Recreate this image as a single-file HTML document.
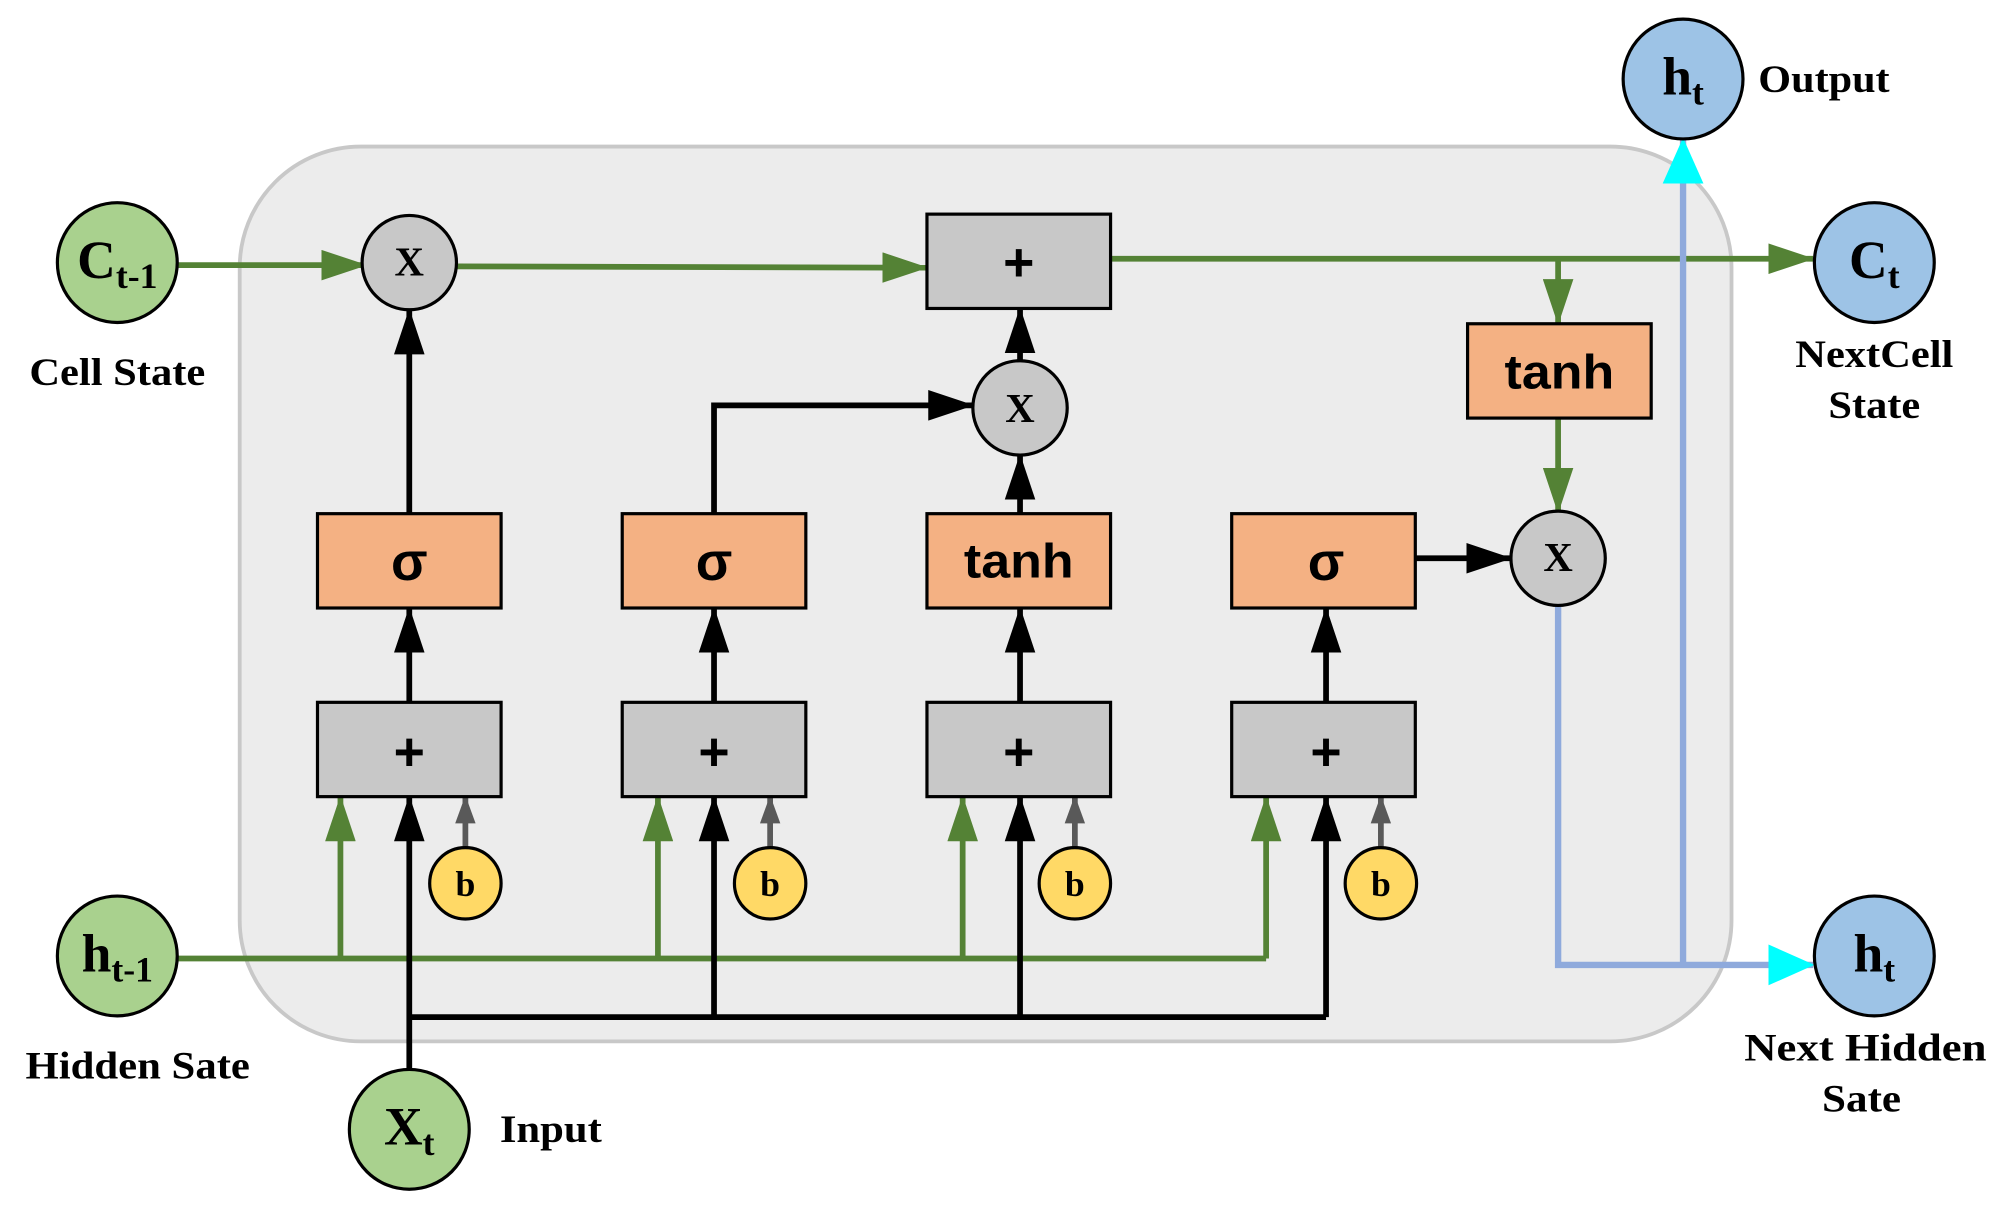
<!DOCTYPE html>
<html><head><meta charset="utf-8"><style>
html,body{margin:0;padding:0;background:#fff}
svg{display:block}
.lbl{font-family:"Liberation Serif",serif;font-weight:bold;fill:#000}
.box{font-family:"Liberation Sans",sans-serif;font-weight:bold;fill:#000}
</style></head><body>
<svg width="1998" height="1216" viewBox="0 0 1567 954" preserveAspectRatio="none" xmlns="http://www.w3.org/2000/svg">
<defs>
<marker id="ag" markerWidth="36" markerHeight="24" refX="35" refY="12" orient="auto" markerUnits="userSpaceOnUse" viewBox="0 0 36 24"><path d="M0,0L36,12L0,24z" fill="#548235"/></marker>
<marker id="ak" markerWidth="36" markerHeight="24" refX="35" refY="12" orient="auto" markerUnits="userSpaceOnUse" viewBox="0 0 36 24"><path d="M0,0L36,12L0,24z" fill="#000"/></marker>
<marker id="ay" markerWidth="22" markerHeight="16" refX="21" refY="8" orient="auto" markerUnits="userSpaceOnUse" viewBox="0 0 22 16"><path d="M0,0L22,8L0,16z" fill="#595959"/></marker>
<marker id="ac" markerWidth="36" markerHeight="32" refX="35" refY="16" orient="auto" markerUnits="userSpaceOnUse" viewBox="0 0 36 32"><path d="M0,0L36,16L0,32z" fill="#00ffff"/></marker>
</defs>
<style>
.g{stroke:#548235;stroke-width:4.5;fill:none}
.k{stroke:#000;stroke-width:4.5;fill:none}
.y{stroke:#595959;stroke-width:4.5;fill:none}
.b{stroke:#8faadc;stroke-width:5;fill:none}
</style>
<rect x="188" y="115" width="1170" height="702" rx="95" fill="#ececec" stroke="#c8c8c8" stroke-width="3"/>
<path class="g" d="M139,208H287" marker-end="url(#ag)"/>
<path class="g" d="M358,209L727,210" marker-end="url(#ag)"/>
<path class="g" d="M871,203H1422" marker-end="url(#ag)"/>
<path class="g" d="M1222,203V254" marker-end="url(#ag)"/>
<path class="g" d="M1222,328V402" marker-end="url(#ag)"/>
<path class="k" d="M321,403V243" marker-end="url(#ak)"/>
<path class="k" d="M560,403V318H763" marker-end="url(#ak)"/>
<path class="k" d="M800,403V357" marker-end="url(#ak)"/>
<path class="k" d="M800,283V242" marker-end="url(#ak)"/>
<path class="k" d="M1110,438H1185" marker-end="url(#ak)"/>
<path class="k" d="M321,551V477" marker-end="url(#ak)"/>
<path class="k" d="M560,551V477" marker-end="url(#ak)"/>
<path class="k" d="M800,551V477" marker-end="url(#ak)"/>
<path class="k" d="M1040,551V477" marker-end="url(#ak)"/>
<path class="g" d="M139,752H993"/>
<path class="g" d="M267,752V625" marker-end="url(#ag)"/>
<path class="g" d="M516,752V625" marker-end="url(#ag)"/>
<path class="g" d="M755,752V625" marker-end="url(#ag)"/>
<path class="g" d="M993,752V625" marker-end="url(#ag)"/>
<path class="k" d="M321,839V625" marker-end="url(#ak)"/>
<path class="k" d="M321,798H1040"/>
<path class="k" d="M560,798V625" marker-end="url(#ak)"/>
<path class="k" d="M800,798V625" marker-end="url(#ak)"/>
<path class="k" d="M1040,798V625" marker-end="url(#ak)"/>
<path class="y" d="M365,665V625" marker-end="url(#ay)"/>
<path class="y" d="M604,665V625" marker-end="url(#ay)"/>
<path class="y" d="M843,665V625" marker-end="url(#ay)"/>
<path class="y" d="M1083,665V625" marker-end="url(#ay)"/>
<path class="b" d="M1222,475V757H1422" marker-end="url(#ac)"/>
<path class="b" d="M1320,757V109" marker-end="url(#ac)"/>
<g stroke="#000" stroke-width="2.5">
<rect x="727" y="168" width="144" height="74" fill="#c8c8c8"/>
<rect x="1151" y="254" width="144" height="74" fill="#f4b183"/>
<rect x="249" y="403" width="144" height="74" fill="#f4b183"/>
<rect x="488" y="403" width="144" height="74" fill="#f4b183"/>
<rect x="727" y="403" width="144" height="74" fill="#f4b183"/>
<rect x="966" y="403" width="144" height="74" fill="#f4b183"/>
<rect x="249" y="551" width="144" height="74" fill="#c8c8c8"/>
<rect x="488" y="551" width="144" height="74" fill="#c8c8c8"/>
<rect x="727" y="551" width="144" height="74" fill="#c8c8c8"/>
<rect x="966" y="551" width="144" height="74" fill="#c8c8c8"/>
<circle cx="321" cy="206" r="37" fill="#c8c8c8"/>
<circle cx="800" cy="320" r="37" fill="#c8c8c8"/>
<circle cx="1222" cy="438" r="37" fill="#c8c8c8"/>
<circle cx="365" cy="693" r="28" fill="#ffd966"/>
<circle cx="604" cy="693" r="28" fill="#ffd966"/>
<circle cx="843" cy="693" r="28" fill="#ffd966"/>
<circle cx="1083" cy="693" r="28" fill="#ffd966"/>
<circle cx="92" cy="206" r="47" fill="#a9d18e"/>
<circle cx="92" cy="750" r="47" fill="#a9d18e"/>
<circle cx="321" cy="886" r="47" fill="#a9d18e"/>
<circle cx="1320" cy="62" r="47" fill="#9dc3e6"/>
<circle cx="1470" cy="206" r="47" fill="#9dc3e6"/>
<circle cx="1470" cy="750" r="47" fill="#9dc3e6"/>
</g>
<g class="box" text-anchor="middle" font-size="42">
<text x="799" y="220">+</text>
<text x="1223" y="305" font-size="38" textLength="86" lengthAdjust="spacingAndGlyphs">tanh</text>
<text x="321" y="455">σ</text>
<text x="560" y="455">σ</text>
<text x="799" y="453" font-size="38" textLength="86" lengthAdjust="spacingAndGlyphs">tanh</text>
<text x="1040" y="455">σ</text>
<text x="321" y="604">+</text>
<text x="560" y="604">+</text>
<text x="799" y="604">+</text>
<text x="1040" y="604">+</text>
</g>
<g class="lbl" text-anchor="middle">
<text x="321" y="216" font-size="32">X</text>
<text x="800" y="331" font-size="32">X</text>
<text x="1222" y="448" font-size="32">X</text>
<text x="365" y="703" font-size="28">b</text>
<text x="604" y="703" font-size="28">b</text>
<text x="843" y="703" font-size="28">b</text>
<text x="1083" y="703" font-size="28">b</text>
<text x="92" y="218" font-size="42">C<tspan font-size="28" dy="8">t-1</tspan></text>
<text x="92" y="762" font-size="42">h<tspan font-size="28" dy="8">t-1</tspan></text>
<text x="321" y="898" font-size="42">X<tspan font-size="28" dy="8">t</tspan></text>
<text x="1320" y="74" font-size="42">h<tspan font-size="28" dy="8">t</tspan></text>
<text x="1470" y="218" font-size="42">C<tspan font-size="28" dy="8">t</tspan></text>
<text x="1470" y="762" font-size="42">h<tspan font-size="28" dy="8">t</tspan></text>
</g>
<g class="lbl" font-size="31">
<text x="92" y="302" text-anchor="middle" textLength="138" lengthAdjust="spacingAndGlyphs">Cell State</text>
<text x="108" y="846" text-anchor="middle" textLength="176" lengthAdjust="spacingAndGlyphs">Hidden Sate</text>
<text x="392" y="896" textLength="80" lengthAdjust="spacingAndGlyphs">Input</text>
<text x="1379" y="72" textLength="103" lengthAdjust="spacingAndGlyphs">Output</text>
<text x="1470" y="288" text-anchor="middle" textLength="124" lengthAdjust="spacingAndGlyphs">NextCell</text>
<text x="1470" y="328" text-anchor="middle" textLength="72" lengthAdjust="spacingAndGlyphs">State</text>
<text x="1368" y="832" textLength="190" lengthAdjust="spacingAndGlyphs">Next Hidden</text>
<text x="1460" y="872" text-anchor="middle" textLength="62" lengthAdjust="spacingAndGlyphs">Sate</text>
</g>
</svg>
</body></html>
